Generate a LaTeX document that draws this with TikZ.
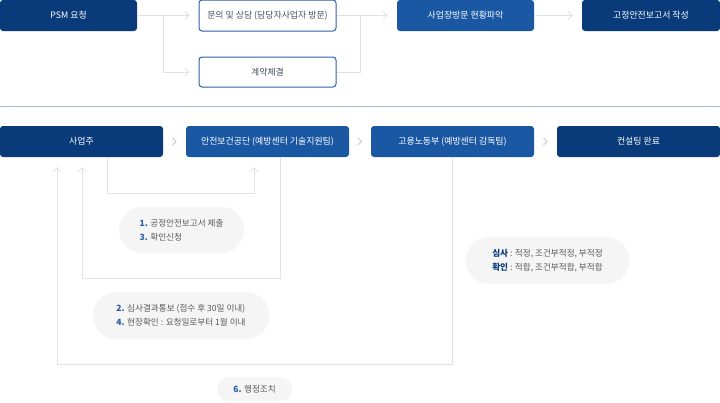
\documentclass[tikz,border=0pt]{standalone}
\usepackage{fontspec}
\usetikzlibrary{arrows.meta,calc}
\newfontfamily\krfont{Noto Sans CJK KR}

\definecolor{navy}{RGB}{9,59,122}
\definecolor{midblue}{RGB}{26,88,163}
\definecolor{rimblue}{RGB}{44,96,170}
\definecolor{flowgray}{RGB}{226,226,226}
\definecolor{chevgray}{RGB}{200,200,200}
\definecolor{sepblue}{RGB}{170,187,208}
\definecolor{bubblefill}{RGB}{245,245,245}
\definecolor{notegray}{RGB}{90,90,90}
\definecolor{numblue}{RGB}{42,92,170}

\newcommand{\nm}[1]{{\color{numblue}\bfseries #1}}
\newcommand{\tg}[1]{{\color{navy}\bfseries #1}}

\tikzset{
    stepbase/.style = {rounded corners=3pt, minimum height=31pt, inner sep=0pt,
                       font=\krfont\fontsize{8.9}{10}\selectfont},
    navybox/.style  = {stepbase, fill=navy, text=white},
    bluebox/.style  = {stepbase, fill=midblue, text=white},
    rimbox/.style   = {stepbase, fill=white, draw=rimblue, line width=1pt, text={rgb,255:red,70;green,80;blue,100}},
    bubble/.style   = {rounded corners=23pt, fill=bubblefill, inner sep=0pt, align=left,
                       text=notegray, font=\krfont\fontsize{8.6}{14}\selectfont},
    flow/.style     = {draw=flowgray, line width=0.9pt},
    tip/.style      = {-{Straight Barb[length=4pt,width=8pt]}, shorten >=9pt},
    chev/.style     = {draw=chevgray, line width=0.9pt},
}

\begin{document}
\begin{tikzpicture}[x=1pt, y=-1pt]
    \useasboundingbox (0,0) rectangle (720,402);

    % consulting request
    \node[navybox, minimum width=137pt] (psm)      at (68.5,15.5)  {PSM 요청};
    \node[rimbox,  minimum width=137pt] (inquiry)  at (267.5,15.5) {문의 및 상담 (담당자사업자 방문)};
    \node[rimbox,  minimum width=137pt, minimum height=30pt] (contract) at (267.5,72) {계약체결};
    \node[bluebox, minimum width=137pt] (visit)    at (465.5,15.5) {사업장방문 현황파악};
    \node[navybox, minimum width=138pt] (report)   at (651,15.5)   {고정안전보고서 작성};

    \coordinate (split) at (163,15.5);
    \coordinate (merge) at (360,15.5);

    \draw[flow] (psm.east) -- (split);
    \draw[flow,tip] (split) -- (inquiry.west);
    \draw[flow,tip] (split) |- (contract.west);
    \draw[flow] (contract.east) -| (merge);
    \draw[flow,tip] (inquiry.east) -- (visit.west);
    \draw[flow,tip] (visit.east) -- (report.west);

    \draw[draw=sepblue, line width=1.2pt] (0,106.5) -- (720,106.5);

    % review procedure
    \node[navybox, minimum width=163pt] (owner) at (81.5,141.5)  {사업주};
    \node[bluebox, minimum width=163pt] (kosha) at (267.5,141.5) {안전보건공단 (예방센터 기술지원팀)};
    \node[bluebox, minimum width=163pt] (moel)  at (452.5,141.5) {고용노동부 (예방센터 감독팀)};
    \node[navybox, minimum width=163pt] (done)  at (638.5,141.5) {컨설팅 완료};

    \foreach \a/\b in {owner/kosha, kosha/moel, moel/done}
        \draw[chev] ($(\a.east)!0.5!(\b.west)$) +(-2,-3.5) -- +(1.5,0) -- +(-2,3.5);

    \draw[flow,-{Straight Barb[length=4pt,width=8pt]}, shorten >=10pt]
        ([xshift=25.5pt]owner.south) -- ++(0,36) -| ([xshift=-13.5pt]kosha.south);
    \draw[flow,-{Straight Barb[length=4pt,width=8pt]}, shorten >=10pt]
        ([xshift=12.5pt]kosha.south) -- ++(0,121) -| ([xshift=0.5pt]owner.south);
    \draw[flow,-{Straight Barb[length=4pt,width=8pt]}, shorten >=10pt]
        (moel.south) -- ++(0,207) -| ([xshift=-24.5pt]owner.south);

    \node[bubble, minimum width=125pt, minimum height=46pt] (submit) at (181.5,230)
        {\nm{1.} 공정안전보고서 제출\\\nm{3.} 확인신청};
    \node[bubble, minimum width=176pt, minimum height=47pt] (notice) at (181,315.5)
        {\nm{2.} 심사결과통보 (접수 후 30일 이내)\\\nm{4.} 현장확인 : 요청일로부터 1월 이내};
    \node[bubble, minimum width=163pt, minimum height=47pt] (verdict) at (547.5,260.5)
        {\tg{심사} : 적정, 조건부적정, 부적정\\\tg{확인} : 적합, 조건부적합, 부적합};
    \node[bubble, rounded corners=12pt, minimum width=75pt, minimum height=24pt] (action) at (254.5,389)
        {\nm{6.} 행정조치};
\end{tikzpicture}
\end{document}
